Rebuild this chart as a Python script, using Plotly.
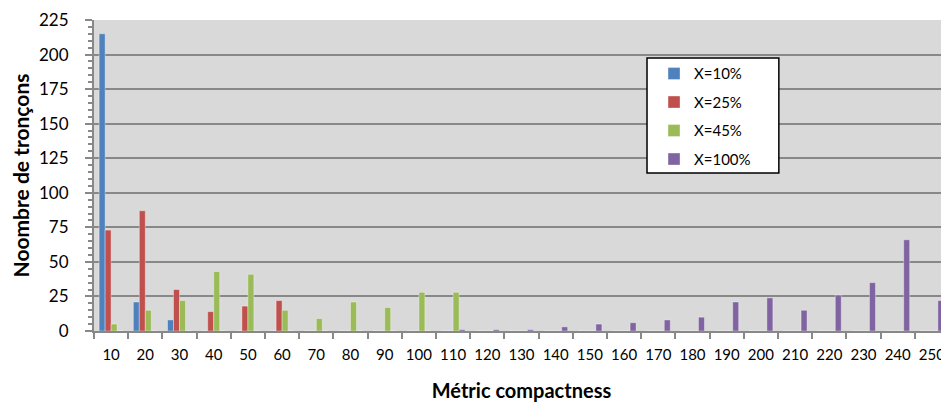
import plotly.graph_objects as go

categories = [str(v) for v in range(10, 260, 10)]

x10 = [215, 21, 8] + [0] * 22
x25 = [73, 87, 30, 14, 18, 22] + [0] * 19
x45 = [5, 15, 22, 43, 41, 15, 9, 21, 17, 28, 28] + [0] * 14
x100 = [0] * 10 + [1, 1, 1, 3, 5, 6, 8, 10, 21, 24, 15, 26, 35, 66, 22]

names = ["X=10%", "X=25%", "X=45%", "X=100%"]
colors = ["#4F81BD", "#C0504D", "#9BBB59", "#8064A2"]

fig = go.Figure()
for name, vals, col in zip(names, [x10, x25, x45, x100], colors):
    fig.add_trace(go.Bar(
        x=categories, y=vals, name=name, legendgroup=name,
        marker=dict(color=col, line=dict(color="rgba(255,255,255,0.35)", width=1)),
    ))

font = "Lato, 'Open Sans', sans-serif"
grid = "#888888"

# page body has an 8px margin, so the figure is sized/offset to compensate
fig.update_layout(
    width=941, height=395,
    margin=dict(l=86, r=0, t=12, b=72),
    paper_bgcolor="white", plot_bgcolor="#D9D9D9",
    barmode="group", bargap=0.3, bargroupgap=0,
    font=dict(family=font, size=14, color="black"),
    showlegend=True,
    legend=dict(
        x=0.655, y=0.88, xanchor="left", yanchor="top",
        bgcolor="rgba(0,0,0,0)", borderwidth=0,
        font=dict(size=15), tracegroupgap=6,
    ),
)

# legend frame
fig.add_shape(type="rect", xref="paper", yref="paper",
              x0=0.6468, x1=0.801, y0=0.508, y1=0.878,
              fillcolor="white", line=dict(color="black", width=1.5), layer="above")

fig.update_yaxes(
    range=[0, 225], dtick=25, tick0=0,
    showgrid=True, gridcolor=grid, gridwidth=2,
    showline=True, linecolor=grid, linewidth=2,
    ticks="outside", ticklen=7, tickcolor=grid, tickwidth=2,
    minor=dict(dtick=5, ticks="outside", ticklen=4, tickcolor=grid, showgrid=False),
    zeroline=False, ticklabelstandoff=13,
    tickfont=dict(size=17),
    title=dict(text="<b>Noombre de tronçons</b>", font=dict(size=21), standoff=12),
)
fig.update_xaxes(
    type="category", range=[-0.5, 24.5], tickson="boundaries", tickangle=0,
    showgrid=False, showline=True, linecolor=grid, linewidth=2,
    ticks="outside", ticklen=6, tickcolor=grid, tickwidth=2,
    tickfont=dict(size=15), ticklabelstandoff=9,
    title=dict(text="<b>Métric compactness</b>", font=dict(size=20), standoff=22),
)

fig.write_html("out.html")
